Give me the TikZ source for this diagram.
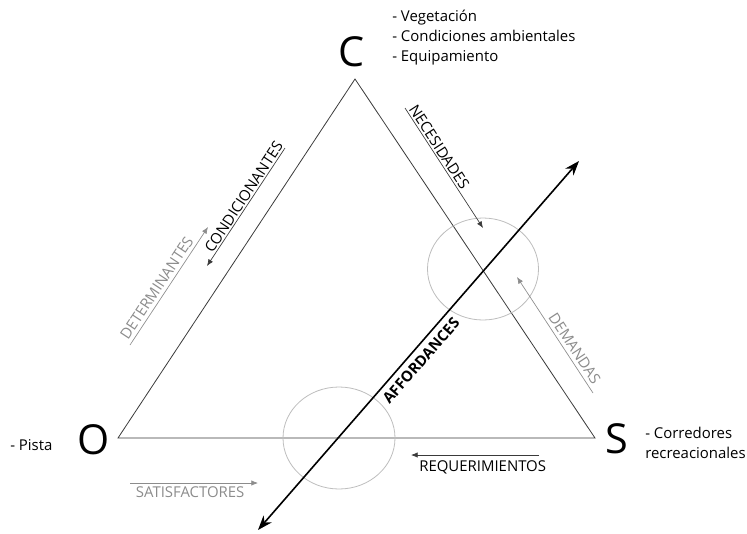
\documentclass[tikz,border=0pt]{standalone}
\usepackage{fontspec}
\setmainfont{Open Sans}
\usetikzlibrary{
  arrows.meta,
  calc,
  positioning,
  shapes.geometric,
}

\definecolor{darkline}{HTML}{3A3A3A}
\definecolor{softgray}{HTML}{8C8C8C}
\definecolor{ringgray}{HTML}{BDBDBD}

\tikzset{
  side/.style={draw=darkline, line width=0.6pt},
  flow/.style={-{Latex[length=5pt,width=4pt]}, line width=0.5pt, draw=darkline},
  softflow/.style={-{Latex[length=5pt,width=4pt]}, line width=0.5pt, draw=softgray},
  lbl/.style={font=\fontsize{11.2}{13}\selectfont, text=black, inner sep=1.2pt},
  softlbl/.style={font=\fontsize{11.2}{13}\selectfont, text=softgray, inner sep=2.5pt},
  vertex/.style={font=\fontsize{31}{31}\selectfont, inner sep=0pt},
  notes/.style={font=\fontsize{11.2}{15}\selectfont, align=left, inner sep=0pt},
  ring/.style={draw=ringgray, line width=0.6pt},
}

\begin{document}
\begin{tikzpicture}[x=0.75pt, y=-0.75pt]
\useasboundingbox (0,0) rectangle (747,533);

% vertices of the triangle
\coordinate (cC) at (355,79);
\coordinate (cO) at (118,438);
\coordinate (cS) at (595,438);

\node[vertex] (C) at (352,52) {C};
\node[vertex] (O) at (94,440) {O};
\node[vertex] (S) at (617,439) {S};

\draw[side] (cO) -- (cC) -- (cS) -- cycle;

% lists next to the letters
\node[notes, anchor=west] (cnotes) at (392,38) {- Vegetación\\- Condiciones ambientales\\- Equipamiento};
\node[notes, anchor=west] (onotes) at (10,445) {- Pista};
\node[notes, anchor=west] (snotes) at (645,443) {- Corredores\\recreacionales};

% rings where the affordances cross
\node[ring, ellipse, minimum width=111*0.75pt, minimum height=102*0.75pt] (ringS) at (483,269) {};
\node[ring, ellipse, minimum width=112*0.75pt, minimum height=102*0.75pt] (ringO) at (339,438) {};

% arrows along the sides
\coordinate (condA) at (285,148);
\coordinate (condB) at (207,266);
\draw[flow] (condA) -- node[lbl, pos=0.45, sloped, above] {CONDICIONANTES} (condB);

\coordinate (detA) at (130,345);
\coordinate (detB) at (208,227);
\draw[softflow] (detA) -- node[softlbl, pos=0.44, sloped, above] {DETERMINANTES} (detB);

\coordinate (necA) at (405,108);
\coordinate (necB) at (483,228);
\draw[flow] (necA) -- node[lbl, pos=0.36, sloped, above] {NECESIDADES} (necB);

\coordinate (demA) at (593,393);
\coordinate (demB) at (517,277);
\draw[softflow] (demA) -- node[softlbl, pos=0.34, sloped, above] {DEMANDAS} (demB);

\coordinate (reqA) at (539,455);
\coordinate (reqB) at (411,455);
\draw[flow] (reqA) -- node[lbl, pos=0.44, below, yshift=-3pt] {REQUERIMIENTOS} (reqB);

\coordinate (satA) at (130,483);
\coordinate (satB) at (258,483);
\draw[softflow] (satA) -- node[softlbl, pos=0.47, below] {SATISFACTORES} (satB);

% affordances axis
\coordinate (affA) at (258,530);
\coordinate (affB) at (579,161);
\draw[{Stealth[length=11pt,width=8pt]}-{Stealth[length=11pt,width=8pt]}, line width=1.2pt]
  (affA) -- node[lbl, pos=0.48, sloped, below, yshift=-3pt, font=\fontsize{11.2}{13}\selectfont\bfseries] {AFFORDANCES} (affB);
\end{tikzpicture}
\end{document}
